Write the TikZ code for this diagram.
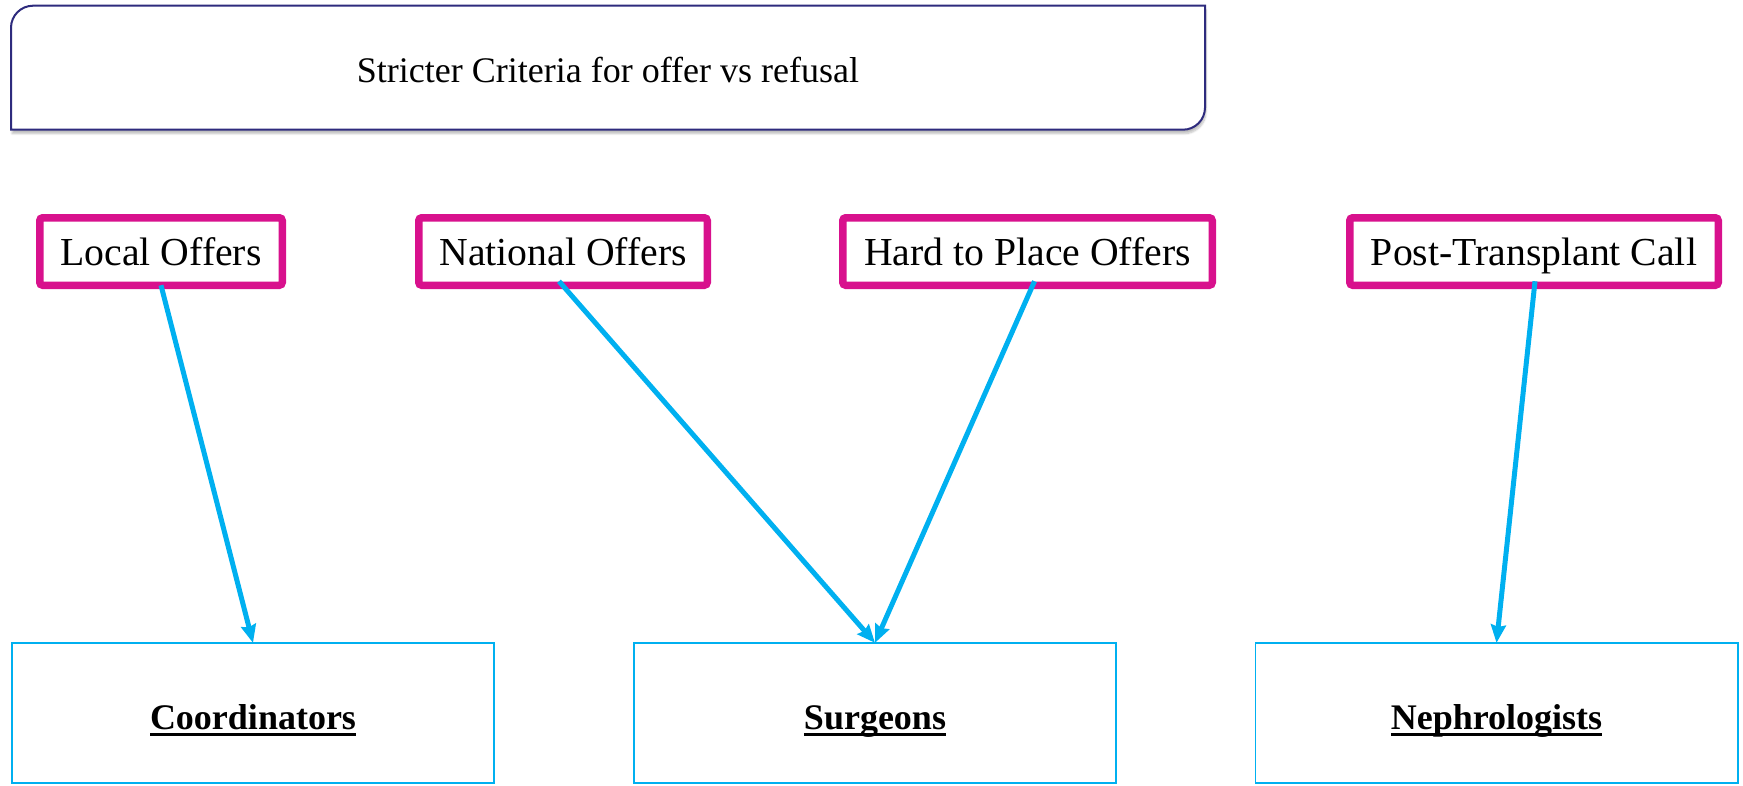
\documentclass[tikz,border=0pt]{standalone}
\usepackage{fontspec}
\setmainfont{Liberation Serif}
\usetikzlibrary{arrows.meta,calc,shadows.blur}
\definecolor{framenavy}{RGB}{46,43,125}
\definecolor{offerpink}{RGB}{216,17,141}
\definecolor{teamcyan}{RGB}{0,176,240}
% underline at a fixed depth below the baseline
\newcommand\ulword[1]{\setbox0\hbox{#1}\rlap{\rule[-6.5pt]{\wd0}{2.4pt}}\box0}

\begin{document}
\begin{tikzpicture}[x=1pt,y=-1pt,
  offer/.style={draw=offerpink, line width=7.5pt, rounded corners=3pt, fill=white,
    inner sep=0pt, outer sep=0pt, minimum height=67.5pt,
    text height=27pt, text depth=0pt, font=\fontsize{39.7}{44}\selectfont},
  team/.style={draw=teamcyan, line width=1.7pt, fill=white, inner sep=0pt, outer sep=0pt,
    minimum width=482.3pt, minimum height=140.3pt,
    text height=32pt, text depth=0pt, font=\fontsize{36}{40}\selectfont\bfseries},
  link/.style={draw=teamcyan, line width=5pt, -{Stealth[length=18pt,width=15pt,inset=2pt]}},
]
\useasboundingbox (0,0) rectangle (1743,785);

% heading panel with two rounded corners
\node[inner sep=0pt, outer sep=0pt, minimum width=1194pt, minimum height=124pt]
  (title) at (608,67.7) {};
\draw[framenavy, line width=2pt, fill=white,
      blur shadow={shadow xshift=1pt, shadow yshift=-4pt, shadow opacity=25, shadow blur steps=6}]
  ($(title.north west)+(0,22)$) .. controls ($(title.north west)+(0,9.9)$) and ($(title.north west)+(9.9,0)$) ..
  ($(title.north west)+(22,0)$) -- (title.north east) -- ($(title.south east)+(0,-22)$)
  .. controls ($(title.south east)+(0,-9.9)$) and ($(title.south east)+(-9.9,0)$) ..
  ($(title.south east)+(-22,0)$) -- (title.south west) -- cycle;
\node[text height=30pt, text depth=0pt, inner sep=0pt, font=\fontsize{36}{40}\selectfont]
  (titletext) at (title.center) {Stricter Criteria for offer vs refusal};

% call types
\node[offer, minimum width=242.5pt] (local) at (161,251.5) {Local Offers};
\node[offer, minimum width=288.5pt] (national) at (563,251.5) {National Offers};
\node[offer, minimum width=369.5pt] (hard) at (1027.5,251.5) {Hard to Place Offers};
\node[offer, minimum width=368.5pt] (post) at (1534,251.5) {Post-Transplant Call};

% teams
\node[team] (coord) at (253,713) {\ulword{Coordinators}};
\node[team] (surg) at (875,713) {\ulword{Surgeons}};
\node[team] (neph) at (1496.5,713) {\ulword{Nephrologists}};

% routing
\draw[link] (local.south) -- (coord.north);
\draw[link] ([xshift=-4pt,yshift=4pt]national.south) -- (surg.north);
\draw[link] ([xshift=7pt,yshift=4pt]hard.south) -- (surg.north);
\draw[link] ([xshift=1pt,yshift=4pt]post.south) -- (neph.north);
\end{tikzpicture}
\end{document}
